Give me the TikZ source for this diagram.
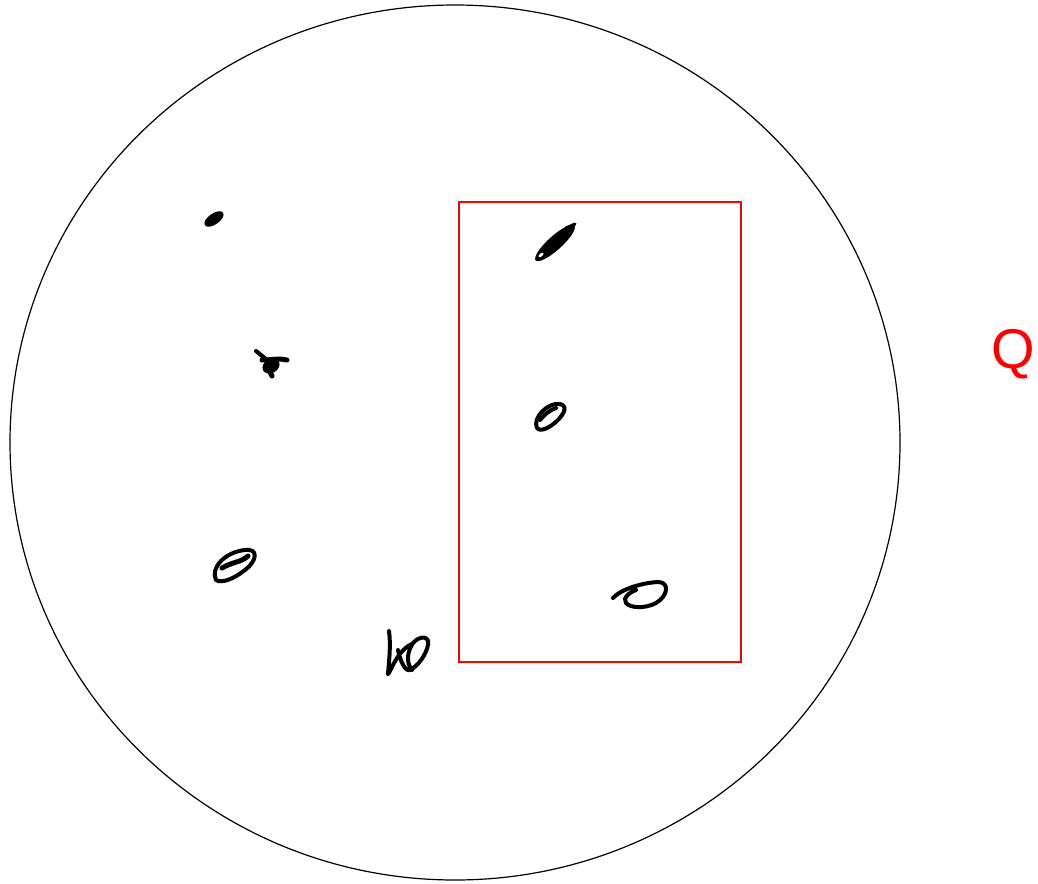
\documentclass[tikz,border=0pt]{standalone}
\usepackage{fontspec}
\setmainfont{Liberation Sans}
\usetikzlibrary{shapes.geometric}
\begin{document}
\begin{tikzpicture}[x=1pt,y=-1pt,
  ink/.style={line width=4pt,line cap=round,line join=round,black}]
\useasboundingbox (0,0) rectangle (1038,883);
\fill[white] (0,0) rectangle (1038,883);
% outer circle
\node[draw=black,line width=1.2pt,ellipse,minimum width=890pt,minimum height=875pt,inner sep=0pt] (outer) at (455,442.5) {};
% red rectangle
\node[draw=red,line width=1.3pt,minimum width=282pt,minimum height=460pt,inner sep=0pt] (box) at (600,432) {};
% label Q
\node[red,font=\fontsize{56}{60}\selectfont,inner sep=0pt] (q) at (1013,354) {Q};
% scribble 1
\fill[rotate around={35:(214,219)}] (214,219) ellipse (11 and 5.5);
% scribble 2
\draw[ink] (256,351) -- (266,359);
\draw[ink,line width=5pt] (262,360) .. controls (272,360) and (280,358) .. (287,360);
\fill[rotate around={30:(271,366)}] (271,366) ellipse (9 and 7);
\draw[ink,line width=5pt] (268,368) -- (272,376);
% scribble 3
\draw[ink] (216,580) .. controls (210,568) and (225,552) .. (245,550)
  .. controls (258,548) and (258,560) .. (245,570)
  .. controls (235,578) and (222,584) .. (216,580);
\draw[ink,line width=5pt] (222,568) .. controls (232,562) and (242,562) .. (248,556);
% scribble 4
\draw[ink] (389,631) .. controls (391,645) and (389,662) .. (388,674);
\draw[ink] (389,673) .. controls (395,660) and (402,648) .. (412,644);
\draw[ink] (398,650) .. controls (400,660) and (405,672) .. (410,670)
  .. controls (418,666) and (426,655) .. (428,645)
  .. controls (430,636) and (420,635) .. (413,643)
  .. controls (407,652) and (406,663) .. (412,670);
% scribble 5
\fill[rotate around={42:(555,243)}] (555,243) ellipse (26 and 7);
\draw[ink,line width=3pt] (566,228) -- (575,224);
\fill[white,rotate around={42:(541,255)}] (541,255) ellipse (3 and 1.5);
% scribble 6
\draw[ink] (537,428) .. controls (532,418) and (548,402) .. (560,404)
  .. controls (570,406) and (562,418) .. (552,425)
  .. controls (545,430) and (539,431) .. (537,428);
\draw[ink] (540,420) .. controls (545,414) and (550,410) .. (556,408);
% scribble 7
\draw[ink] (613,598) .. controls (620,590) and (640,583) .. (658,582)
  .. controls (670,582) and (668,596) .. (656,603)
  .. controls (645,609) and (630,608) .. (626,603)
  .. controls (622,598) and (630,592) .. (636,590);
\end{tikzpicture}
\end{document}
